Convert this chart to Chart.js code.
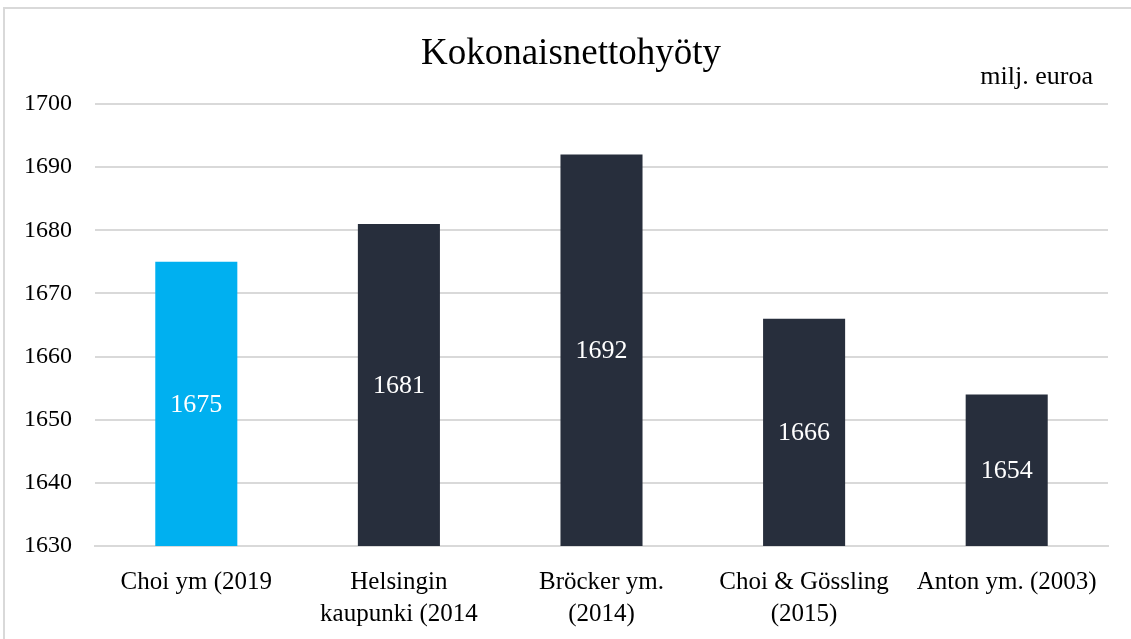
<!DOCTYPE html>
<html>
<head>
<meta charset="utf-8">
<script src="https://cdn.jsdelivr.net/npm/chart.js@4.4.1/dist/chart.umd.min.js"></script>
<style>
html,body{margin:0;padding:0;background:#fff;}
#wrap{width:1131px;height:639px;position:relative;}
</style>
</head>
<body>
<div id="wrap"><canvas id="c" width="1131" height="639"></canvas></div>
<script>
const categories = [["Choi ym (2019"], ["Helsingin", "kaupunki (2014"], ["Bröcker ym.", "(2014)"], ["Choi & Gössling", "(2015)"], ["Anton ym. (2003)"]];
const values = [1675, 1681, 1692, 1666, 1654];
const barColors = ["#00B0F0", "#272E3C", "#272E3C", "#272E3C", "#272E3C"];
const yMin = 1630, yMax = 1700, yStep = 10;
const titleText = "Kokonaisnettohyöty";
const unitText = "milj. euroa";

const FONT = "'Liberation Serif', 'Times New Roman', serif";

const decor = {
  id: 'decor',
  beforeDraw(chart) {
    const ctx = chart.ctx;
    ctx.save();
    ctx.fillStyle = '#fff';
    ctx.fillRect(0, 0, chart.width, chart.height);
    ctx.strokeStyle = '#d9d9d9';
    ctx.lineWidth = 2;
    ctx.strokeRect(4, 8, 1140, 700);
    ctx.restore();
  },
  afterDraw(chart) {
    const ctx = chart.ctx;
    const xs = chart.scales.x, ys = chart.scales.y;
    ctx.save();
    ctx.fillStyle = '#000';
    ctx.textBaseline = 'middle';
    ctx.textAlign = 'center';
    ctx.font = '37px ' + FONT;
    ctx.fillText(titleText, 571, 54);
    ctx.textAlign = 'right';
    ctx.font = '26px ' + FONT;
    ctx.fillText(unitText, 1093, 77);
    // data labels
    ctx.fillStyle = '#fff';
    ctx.textAlign = 'center';
    ctx.font = '26px ' + FONT;
    values.forEach((v, i) => {
      const x = xs.getPixelForValue(i);
      const top = ys.getPixelForValue(v);
      const base = ys.getPixelForValue(yMin);
      ctx.fillText(String(v), x, (top + base) / 2 + 1);
    });
    ctx.restore();
  }
};

new Chart(document.getElementById('c'), {
  type: 'bar',
  data: {
    labels: categories,
    datasets: [{
      data: values,
      backgroundColor: barColors,
      borderWidth: 0,
      categoryPercentage: 0.81,
      barPercentage: 0.5
    }]
  },
  options: {
    responsive: false,
    animation: false,
    layout: { padding: { top: 104, right: 23, left: 0, bottom: 0 } },
    plugins: { legend: { display: false }, title: { display: false }, tooltip: { enabled: false } },
    scales: {
      x: {
        grid: { display: false, drawTicks: false },
        border: { display: true, color: '#d9d9d9', width: 2 },
        ticks: { color: '#000', font: { family: FONT, size: 25, lineHeight: 1.28 }, padding: 20, maxRotation: 0, autoSkip: false },
        afterFit(scale) { scale.height = 93; }
      },
      y: {
        min: yMin, max: yMax,
        grid: { color: '#d9d9d9', lineWidth: 2, drawTicks: false },
        border: { display: false },
        ticks: { stepSize: yStep, color: '#000', font: { family: FONT, size: 24 }, padding: 23,
                 callback: (v) => String(v) },
        afterFit(scale) { scale.width = 95; }
      }
    }
  },
  plugins: [decor]
});
</script>
</body>
</html>
